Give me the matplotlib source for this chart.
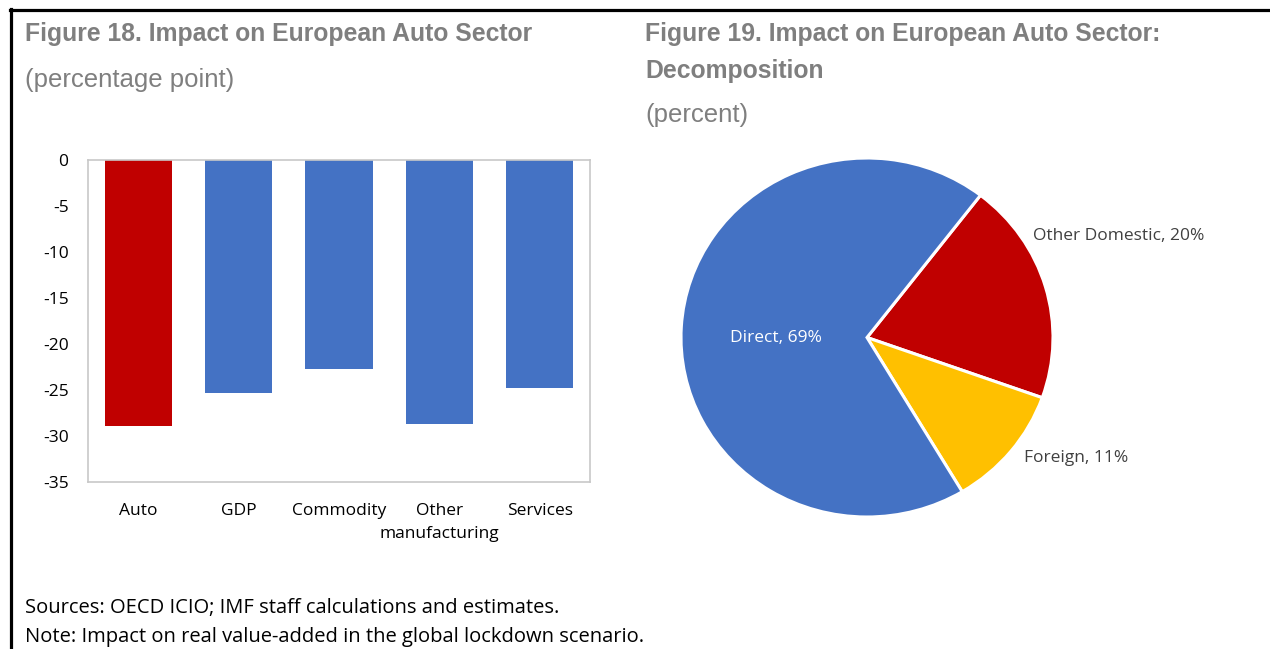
import numpy as np
import matplotlib
matplotlib.use("Agg")
import matplotlib.pyplot as plt
from matplotlib.lines import Line2D

# bar chart data (percentage point)
categories = ["Auto", "GDP", "Commodity", "Other\nmanufacturing", "Services"]
impact = [-28.9, -25.3, -22.7, -28.7, -24.8]
bar_colors = ["#C00000", "#4472C4", "#4472C4", "#4472C4", "#4472C4"]

# pie chart data (percent)
parts = ["Other Domestic", "Foreign", "Direct"]
shares = [20, 11, 69]
pie_colors = ["#C00000", "#FFC000", "#4472C4"]

W, H = 1270, 649
fig = plt.figure(figsize=(W / 100, H / 100), dpi=100)

def fx(px):
    return px / W

def fy(py):
    return 1 - py / H

title_gray = "#7F7F7F"
text_dark = "#404040"
body_font = "Open Sans"
head_font = "Liberation Sans"

# frame lines top and left
fig.add_artist(Line2D([fx(10), 1], [fy(10), fy(10)], color="black", lw=2.3))
fig.add_artist(Line2D([fx(11), fx(11)], [fy(9), 0], color="black", lw=2.3))

# titles
fig.text(fx(25), fy(34), "Figure 18. Impact on European Auto Sector", fontsize=17.8,
         fontweight="bold", color=title_gray, family=head_font, va="center")
fig.text(fx(25), fy(80), "(percentage point)", fontsize=18.5,
         color=title_gray, family=head_font, va="center")
fig.text(fx(645), fy(34), "Figure 19. Impact on European Auto Sector:", fontsize=17.8,
         fontweight="bold", color=title_gray, family=head_font, va="center")
fig.text(fx(645), fy(71), "Decomposition", fontsize=17.8,
         fontweight="bold", color=title_gray, family=head_font, va="center")
fig.text(fx(645), fy(115), "(percent)", fontsize=18.5,
         color=title_gray, family=head_font, va="center")

# footer
fig.text(fx(25), fy(608), "Sources: OECD ICIO; IMF staff calculations and estimates.",
         fontsize=14.5, color="black", family=body_font, va="center")
fig.text(fx(25), fy(637), "Note: Impact on real value-added in the global lockdown scenario.",
         fontsize=14.5, color="black", family=body_font, va="center")

# bar chart
ax = fig.add_axes([fx(88), fy(482), fx(590) - fx(88), fy(160) - fy(482)])
x = np.arange(len(categories))
ax.bar(x, impact, width=0.67, color=bar_colors, zorder=2)
ax.set_xlim(-0.5, len(categories) - 0.5)
ax.set_ylim(-35, 0)
yt = np.arange(-35, 1, 5)
ax.set_yticks(yt)
ax.set_yticklabels([str(v) for v in yt])
ax.set_xticks(x)
ax.set_xticklabels(categories, linespacing=1.6)
ax.tick_params(length=0, labelsize=12.5, labelcolor="black")
ax.tick_params(axis="y", pad=14)
ax.tick_params(axis="x", pad=15)
for lbl in ax.get_xticklabels() + ax.get_yticklabels():
    lbl.set_family(body_font)
for s in ax.spines.values():
    s.set_color("#C8C8C8")
    s.set_linewidth(1.2)

# pie chart
cx, cy = 867, 337.5
rx, ry = 186, 179.5
pax = fig.add_axes([fx(cx - rx), fy(cy + ry), 2 * rx / W, 2 * ry / H])
wedges, _ = pax.pie(shares, colors=pie_colors, startangle=52.4, counterclock=False,
                    wedgeprops=dict(edgecolor="white", linewidth=2.2))
pax.set_xlim(-1, 1)
pax.set_ylim(-1, 1)
pax.set_aspect("auto")

label_pos = {"Other Domestic": (1033, 236, text_dark),
             "Foreign": (1024, 458, text_dark),
             "Direct": (730, 338, "white")}
for name, val in zip(parts, shares):
    px, py, col = label_pos[name]
    fig.text(fx(px), fy(py), f"{name}, {val}%", fontsize=12.5, color=col,
             family=body_font, ha="left", va="center")

fig.savefig("out.png", dpi=100)
